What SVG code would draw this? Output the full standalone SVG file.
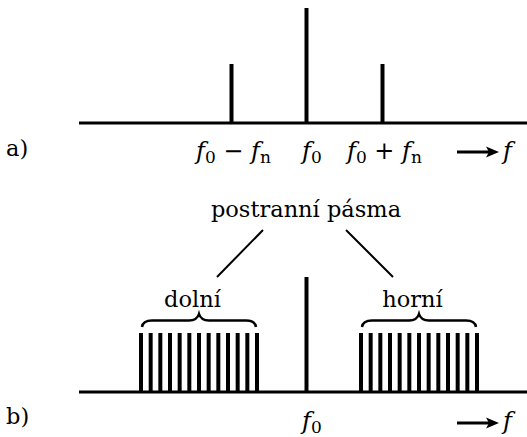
<svg xmlns="http://www.w3.org/2000/svg" width="527" height="437" viewBox="0 0 527 437">
<style>
.ax{stroke:#000;stroke-width:3;fill:none}
.bar{stroke:#000;stroke-width:4}
.ln{stroke:#000;stroke-width:2;fill:none}
.br{stroke:#000;stroke-width:2.5;fill:none}
text{font-family:"DejaVu Serif","Liberation Serif",serif;font-size:22.5px;fill:#000}
.m{font-style:italic;font-size:24px}
.sub{font-style:normal;font-size:17px}
</style>
<defs>
<g id="bars13">
<line class="bar" x1="0" y1="0" x2="0" y2="59"/>
<line class="bar" x1="9.67" y1="0" x2="9.67" y2="59"/>
<line class="bar" x1="19.33" y1="0" x2="19.33" y2="59"/>
<line class="bar" x1="29" y1="0" x2="29" y2="59"/>
<line class="bar" x1="38.67" y1="0" x2="38.67" y2="59"/>
<line class="bar" x1="48.33" y1="0" x2="48.33" y2="59"/>
<line class="bar" x1="58" y1="0" x2="58" y2="59"/>
<line class="bar" x1="67.67" y1="0" x2="67.67" y2="59"/>
<line class="bar" x1="77.33" y1="0" x2="77.33" y2="59"/>
<line class="bar" x1="87" y1="0" x2="87" y2="59"/>
<line class="bar" x1="96.67" y1="0" x2="96.67" y2="59"/>
<line class="bar" x1="106.33" y1="0" x2="106.33" y2="59"/>
<line class="bar" x1="116" y1="0" x2="116" y2="59"/>
</g>
<path id="brace" class="br" d="M0,13 Q1,6.5 10,6.5 L47,6.5 Q55,6.5 57,0 Q59,6.5 67,6.5 L104,6.5 Q113,6.5 114,13"/>
</defs>

<g id="panel-a">
<line class="ax" x1="79" y1="123" x2="527" y2="123"/>
<line class="bar" x1="306.5" y1="8" x2="306.5" y2="123"/>
<line class="bar" x1="231.5" y1="64" x2="231.5" y2="123"/>
<line class="bar" x1="382.5" y1="64" x2="382.5" y2="123"/>
<text x="6" y="156">a)</text>
<text x="196" y="159" class="m">f<tspan class="sub" dy="4">0</tspan><tspan dy="-4" style="font-style:normal"> − </tspan>f<tspan class="sub" dy="4">n</tspan></text>
<text x="302" y="159" class="m">f<tspan class="sub" dy="4">0</tspan></text>
<text x="347" y="159" class="m">f<tspan class="sub" dy="4">0</tspan><tspan dy="-4" style="font-style:normal"> + </tspan>f<tspan class="sub" dy="4">n</tspan></text>
<line class="ax" x1="457" y1="152" x2="490" y2="152"/>
<polygon points="486,146.5 499,152 486,157.5 489,152" fill="#000"/>
<text x="503" y="159" class="m">f</text>
</g>

<g id="label-sidebands">
<text x="306" y="217" text-anchor="middle">postranní pásma</text>
</g>

<g id="connectors">
<line class="ln" x1="263" y1="230" x2="217" y2="277"/>
<line class="ln" x1="346" y1="230" x2="393" y2="277"/>
</g>

<g id="lower-band">
<text x="192.5" y="307" text-anchor="middle">dolní</text>
<use href="#brace" x="142" y="314"/>
<use href="#bars13" x="141" y="333"/>
</g>

<g id="upper-band">
<text x="412.5" y="307" text-anchor="middle">horní</text>
<use href="#brace" x="362" y="314"/>
<use href="#bars13" x="361" y="333"/>
</g>

<g id="panel-b">
<line class="ax" x1="79" y1="392" x2="527" y2="392"/>
<line class="bar" x1="306.5" y1="277" x2="306.5" y2="392"/>
<text x="6" y="424">b)</text>
<text x="302" y="429" class="m">f<tspan class="sub" dy="4">0</tspan></text>
<line class="ax" x1="457" y1="423" x2="490" y2="423"/>
<polygon points="486,417.5 499,423 486,428.5 489,423" fill="#000"/>
<text x="503" y="429" class="m">f</text>
</g>
</svg>
